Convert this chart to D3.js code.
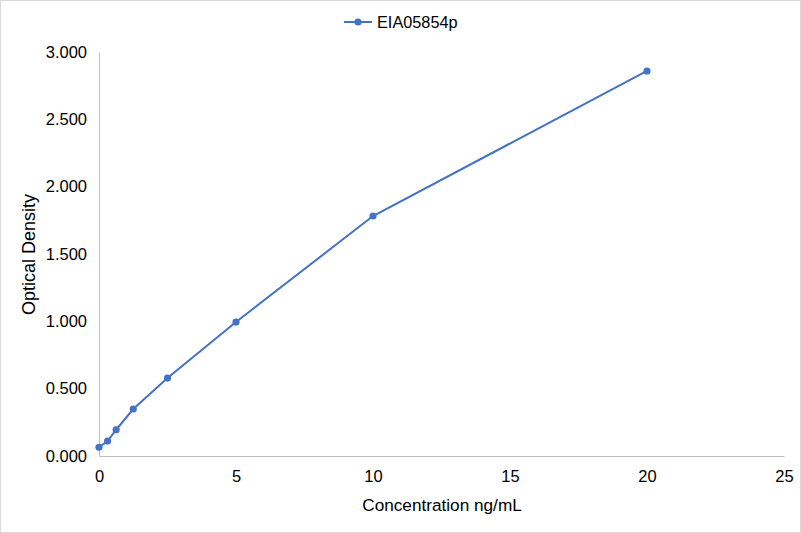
<!DOCTYPE html>
<meta charset="utf-8">
<script src="https://d3js.org/d3.v7.min.js"></script>
<style>
  body { margin: 0; background: #fff; }
  #chart { font-family: "Liberation Sans", Arial, sans-serif; }
</style>
<div id="chart"></div>
<script>
// concentrations (ng/mL) and optical density readings
var seriesName = "EIA05854p";
var concentration = [0, 0.3125, 0.625, 1.25, 2.5, 5, 10, 20];
var density = [0.065, 0.111, 0.195, 0.349, 0.579, 0.995, 1.782, 2.859];
var xTicks = [0, 5, 10, 15, 20, 25];
var yTicks = [0, 0.5, 1, 1.5, 2, 2.5, 3];

var W = 801, H = 533;
var margin = { top: 52, right: 17, bottom: 77, left: 99 };
var width = W - margin.left - margin.right,
    height = H - margin.top - margin.bottom;

var svg = d3.select("#chart").append("svg")
    .attr("width", W)
    .attr("height", H);

// outer border
svg.append("rect")
    .attr("x", 0.5).attr("y", 0.5)
    .attr("width", W - 1).attr("height", H - 1)
    .attr("fill", "#fff")
    .attr("stroke", "#d9d9d9");

var g = svg.append("g")
    .attr("transform", "translate(" + margin.left + "," + margin.top + ")");

var x = d3.scaleLinear().domain([0, 25]).range([0, width]);
var y = d3.scaleLinear().domain([0, 3]).range([height, 0]);

// x axis
var xAxis = g.append("g")
    .attr("transform", "translate(0," + height + ")")
    .call(d3.axisBottom(x).tickValues(xTicks).tickSize(0).tickPadding(14).tickFormat(d3.format("d")));
xAxis.select(".domain").attr("stroke", "#bfbfbf");
xAxis.selectAll("text").attr("font-size", "16.5px").attr("fill", "#000")
    .attr("font-family", "Liberation Sans, Arial, sans-serif");

// y axis
var yAxis = g.append("g")
    .call(d3.axisLeft(y).tickValues(yTicks).tickSize(0).tickPadding(12).tickFormat(d3.format(".3f")));
yAxis.select(".domain").attr("stroke", "#bfbfbf");
yAxis.selectAll("text").attr("font-size", "16.5px").attr("fill", "#000")
    .attr("font-family", "Liberation Sans, Arial, sans-serif");

// axis titles
svg.append("text")
    .attr("x", 442)
    .attr("y", 511)
    .attr("text-anchor", "middle")
    .attr("font-size", "17.2px")
    .text("Concentration ng/mL");

svg.append("text")
    .attr("transform", "translate(35,254.5) rotate(-90)")
    .attr("text-anchor", "middle")
    .attr("font-size", "18px")
    .text("Optical Density");

var data = concentration.map(function(c, i) { return { x: c, y: density[i] }; });

var line = d3.line()
    .x(function(d) { return x(d.x); })
    .y(function(d) { return y(d.y); });

g.append("path")
    .datum(data)
    .attr("fill", "none")
    .attr("stroke", "#4472C4")
    .attr("stroke-width", 2)
    .attr("d", line);

g.selectAll("circle.pt")
    .data(data)
    .enter().append("circle")
    .attr("class", "pt")
    .attr("cx", function(d) { return x(d.x); })
    .attr("cy", function(d) { return y(d.y); })
    .attr("r", 3.6)
    .attr("fill", "#4472C4");

// legend
var lg = svg.append("g").attr("transform", "translate(344,22)");
lg.append("line").attr("x1", 0).attr("x2", 28).attr("y1", 0).attr("y2", 0)
    .attr("stroke", "#4472C4").attr("stroke-width", 2);
lg.append("circle").attr("cx", 14).attr("cy", 0).attr("r", 3.6).attr("fill", "#4472C4");
lg.append("text").attr("x", 33).attr("y", 6).attr("font-size", "16.3px").text(seriesName);
</script>
